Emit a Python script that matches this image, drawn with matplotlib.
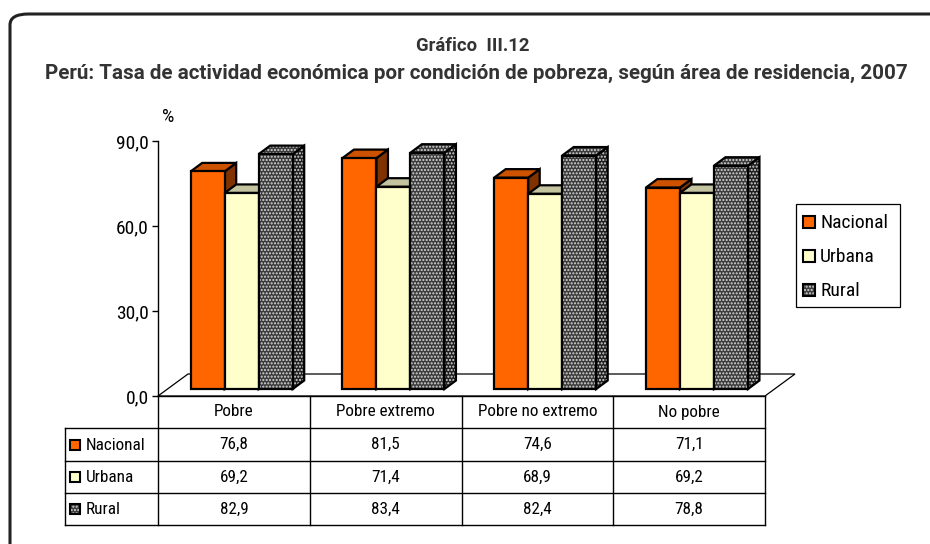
import matplotlib
matplotlib.use("Agg")
from matplotlib import pyplot as plt
from matplotlib.patches import Polygon, Rectangle, FancyBboxPatch
from matplotlib.lines import Line2D
from matplotlib.ticker import FuncFormatter

plt.rcParams['font.family'] = ['Roboto Condensed', 'PT Sans Narrow', 'Archivo Narrow', 'Liberation Sans']
plt.rcParams['hatch.linewidth'] = 1.0

categorias = ['Pobre', 'Pobre extremo', 'Pobre no extremo', 'No pobre']
series = ['Nacional', 'Urbana', 'Rural']
nacional = [76.8, 81.5, 74.6, 71.1]
urbana = [69.2, 71.4, 68.9, 69.2]
rural = [82.9, 83.4, 82.4, 78.8]
valores = [nacional, urbana, rural]

titulo1 = 'Gráfico  III.12'
titulo2 = 'Perú: Tasa de actividad económica por condición de pobreza, según área de residencia, 2007'

# colores: frente, tapa, lado
colores = [('#FF6600', '#CC5200', '#803300'),
           ('#FFFFCC', '#C4C4A0', '#9C9C80'),
           ('#3C3C3C', '#3C3C3C', '#202020')]

W, H = 930, 544
fig = plt.figure(figsize=(W / 100, H / 100), dpi=100)


def px(x, y):
    return (x / W, 1 - y / H)


# marco redondeado
marco = FancyBboxPatch(px(10, 600), (960 - 10) / W, (600 - 14) / H,
                       boxstyle='round,pad=0,rounding_size=0.02',
                       transform=fig.transFigure, fill=False,
                       edgecolor='#222222', linewidth=2.2)
fig.add_artist(marco)

titulos = ['Roboto', 'Liberation Sans']
fig.text(*px(473, 46), titulo1, ha='center', va='center', fontsize=13.3, fontweight='bold',
         color='#333333', family=titulos)
fig.text(*px(476, 73), titulo2, ha='center', va='center', fontsize=14.9, fontweight='bold',
         color='#333333', family=titulos)
fig.text(*px(168, 117), '%', ha='center', va='center', fontsize=14)

# ejes
X0, Y0, CW, YTOP = 158, 396, 151.75, 141
S = (Y0 - YTOP) / 90.0
ax = fig.add_axes([X0 / W, 1 - Y0 / H, 4 * CW / W, (Y0 - YTOP) / H])
ax.set_xlim(0, 4)
ax.set_ylim(0, 90)
ax.patch.set_visible(False)
for s in ['top', 'right', 'bottom']:
    ax.spines[s].set_visible(False)
ax.spines['left'].set_linewidth(1)
ax.set_xticks([])
ax.set_yticks([0, 30, 60, 90])
ax.yaxis.set_major_formatter(FuncFormatter(lambda v, p: f'{v:.1f}'.replace('.', ',')))
ax.tick_params(axis='y', direction='out', length=4.5, width=1, labelsize=14, pad=2)

# suelo 3D
fdx, fdy = 30 / CW, 22 / S
suelo = Polygon([(0, 0), (4, 0), (4 + fdx, fdy), (fdx, fdy)], closed=True,
                facecolor='white', edgecolor='black', linewidth=0.9, clip_on=False, zorder=1)
ax.add_patch(suelo)

# barras 3D
bw = 34 / CW
off = 32.7 / CW
base = 7 / S
ddx, ddy = 11.5 / CW, 8.5 / S

for i in range(len(categorias)):
    for j, serie in enumerate(valores):
        frente, tapa, lado = colores[j]
        x1 = i + off + j * bw
        x2 = x1 + bw
        y1 = base
        y2 = base + serie[i]
        side = [(x2, y1), (x2 + ddx, y1 + ddy), (x2 + ddx, y2 + ddy), (x2, y2)]
        top = [(x1, y2), (x2, y2), (x2 + ddx, y2 + ddy), (x1 + ddx, y2 + ddy)]
        front = [(x1, y1), (x2, y1), (x2, y2), (x1, y2)]
        z = 3 + j
        for pts, col in [(side, lado), (top, tapa), (front, frente)]:
            if j == 2:
                ax.add_patch(Polygon(pts, closed=True, facecolor=col, edgecolor='#D8D8D8',
                                     hatch='.....', linewidth=0, clip_on=False, zorder=z))
                ax.add_patch(Polygon(pts, closed=True, fill=False, edgecolor='black',
                                     linewidth=1.6, clip_on=False, zorder=z))
            else:
                ax.add_patch(Polygon(pts, closed=True, facecolor=col, edgecolor='black',
                                     linewidth=1.6, clip_on=False, zorder=z))


def linea(x1, y1, x2, y2, lw=1.0):
    a, b = px(x1, y1)
    c, d = px(x2, y2)
    fig.add_artist(Line2D([a, c], [b, d], color='black', linewidth=lw))


def muestra(x, y, j, size=11):
    frente = colores[j][0]
    xx, yy = px(x, y + size / 2)
    if j == 2:
        fig.add_artist(Rectangle((xx, yy), size / W, size / H, transform=fig.transFigure,
                                 facecolor=frente, edgecolor='#D8D8D8', hatch='.....', linewidth=0))
        fig.add_artist(Rectangle((xx, yy), size / W, size / H, transform=fig.transFigure,
                                 fill=False, edgecolor='black', linewidth=1.5))
    else:
        fig.add_artist(Rectangle((xx, yy), size / W, size / H, transform=fig.transFigure,
                                 facecolor=frente, edgecolor='black', linewidth=1.5))


# tabla de datos
XL, XR = 65, X0 + 4 * CW
filas = [396, 428, 461, 493, 525]
linea(X0, filas[0], XR, filas[0])
for yv in filas[1:]:
    linea(XL, yv, XR, yv)
for i in range(5):
    linea(X0 + i * CW, filas[0], X0 + i * CW, filas[-1])
linea(XL, filas[1], XL, filas[-1])

for i, cat in enumerate(categorias):
    fig.text(*px(X0 + (i + 0.5) * CW, (filas[0] + filas[1]) / 2), cat,
             ha='center', va='center', fontsize=12.3)
    for j, serie in enumerate(valores):
        yc = (filas[j + 1] + filas[j + 2]) / 2
        fig.text(*px(X0 + (i + 0.5) * CW, yc), f'{serie[i]:.1f}'.replace('.', ','),
                 ha='center', va='center', fontsize=12.3)

for j, nombre in enumerate(series):
    yc = (filas[j + 1] + filas[j + 2]) / 2
    muestra(70, yc, j, size=10)
    fig.text(*px(86, yc + 1), nombre, ha='left', va='center', fontsize=12.3)

# leyenda
lx1, ly1, lx2, ly2 = 796, 204, 900, 307
fig.add_artist(Rectangle(px(lx1, ly2), (lx2 - lx1) / W, (ly2 - ly1) / H,
                         transform=fig.transFigure, fill=False, edgecolor='black', linewidth=0.9))
for j, nombre in enumerate(series):
    yc = 222 + j * 34
    muestra(803, yc, j, size=12)
    fig.text(*px(820, yc + 1), nombre, ha='left', va='center', fontsize=14)

fig.savefig('out.png', dpi=100)
